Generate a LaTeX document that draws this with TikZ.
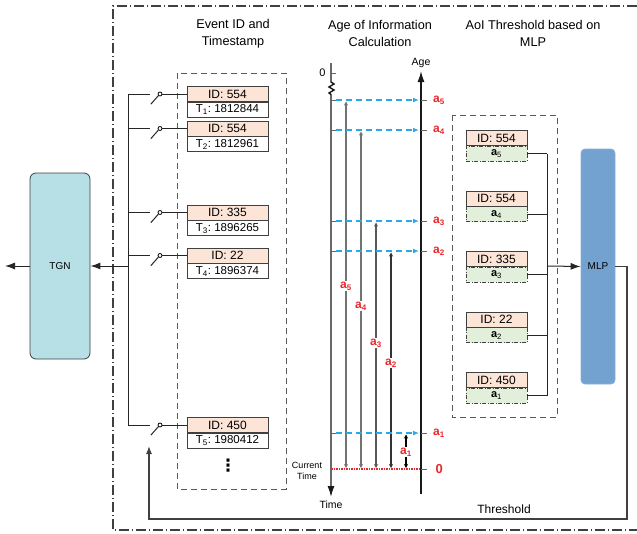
\documentclass[tikz,border=0pt]{standalone}
\usepackage{fontspec}
\setmainfont{Liberation Sans}
\newfontfamily\symfnt{DejaVu Sans}
\usetikzlibrary{arrows.meta, positioning, calc}
\definecolor{dgry}  {RGB}{ 64, 64, 64}
\definecolor{peach} {RGB}{252,228,214}
\definecolor{lgrn}  {RGB}{226,239,218}
\definecolor{tcyan} {RGB}{182,224,230}
\definecolor{mblue} {RGB}{116,162,208}
\definecolor{sblue} {RGB}{ 40,170,230}
\definecolor{ared}  {RGB}{232, 38, 43}
\tikzset{
  % Peach ID row
  IB/.style={rectangle,draw=dgry,fill=peach,minimum width=#1,
             minimum height=15pt,inner sep=0pt,line width=0.8pt,
             font=\fontsize{12}{13}\selectfont},
  IB/.default=81pt,
  % White timestamp row
  TB/.style={rectangle,draw=dgry,fill=white,minimum width=#1,
             minimum height=15pt,inner sep=0pt,line width=0.8pt,
             font=\fontsize{11.5}{13}\selectfont},
  TB/.default=81pt,
  % Green age row, dash-dot border
  GB/.style={rectangle,draw=dgry,fill=lgrn,minimum width=#1,
             minimum height=15pt,inner sep=0pt,line width=0.7pt,
             dash pattern=on 4pt off 1.5pt on 1pt off 1.5pt,
             font=\fontsize{11}{13}\selectfont},
  GB/.default=61pt,
  % Model blocks
  MB/.style={rectangle,rounded corners=6pt,line width=0.8pt,
             font=\fontsize{10}{12}\selectfont},
  % Red age labels
  AL/.style={text=ared,inner sep=1pt,font=\fontsize{12}{13}\selectfont\bfseries},
  Wire/.style ={line width=1pt,color=black!85},
  Tick/.style ={line width=0.8pt,color=black!60},
  Arr/.style  ={-{Latex[length=10pt,width=7pt]},line width=1pt,color=black!85},
  AxArr/.style={-{Latex[length=11pt,width=7pt]},line width=1.4pt,color=black!90},
  BArr/.style ={-{Latex[length=6pt,width=5pt]},line width=1.2pt,color=sblue,
                dash pattern=on 6pt off 4pt},
  DArr/.style ={{Stealth[length=4pt,width=4pt]}-{Stealth[length=4pt,width=4pt]},
                line width=1.2pt},
  FrameS/.style={line width=1.2pt,color=dgry,
                 dash pattern=on 10pt off 3pt on 1pt off 3pt},
  DBox/.style ={line width=1pt,color=black!65,dash pattern=on 6pt off 4pt},
}

\begin{document}
\begin{tikzpicture}[x=1pt,y=-1pt]
  \useasboundingbox (0,0) rectangle (637,533);
  % Outer frame and section titles
  \draw[FrameS] (637,6) -- (113,6) -- (113,530) -- (637,530);
  \node[align=center,font=\fontsize{12.7}{17}\selectfont]
       at (233,33.5) (h1) {Event ID and\\Timestamp};
  \node[align=center,font=\fontsize{12.7}{17}\selectfont]
       at (380,33.5) (h2) {Age of Information\\Calculation};
  \node[align=center,font=\fontsize{12.7}{17}\selectfont]
       at (533,33.5) (h3) {AoI Threshold based on\\MLP};

  % TGN block
  \node[MB,fill=tcyan,draw=dgry,minimum width=60pt,minimum height=186pt]
       at (60,266) (tgn) {TGN};
  \coordinate (out) at (5,266);
  \coordinate (bt)  at (128,266);
  \draw[Arr] (bt) -- (tgn.east);
  \draw[Arr] (tgn.west) -- (out);

  % Event boxes with switches
  \draw[DBox] (177,73) rectangle (286,489);
  \foreach \i/\c/\id/\ts in {1/94/554/1812844, 2/128.5/554/1812961,
                             3/212.5/335/1896265, 4/255.5/22/1896374,
                             5/425/450/1980412}{
    \node[IB] at (227.5,\c) (e\i) {ID: \id};
    \node[TB,below=0pt of e\i] (t\i) {T\textsubscript{\i}:\ \ts};
    \coordinate (b\i) at (128,\c);
    \coordinate (k\i) at (150,\c);
    \node[circle,draw,line width=0.8pt,inner sep=0pt,minimum size=4pt]
         at (160,\c) (s\i) {};
    \draw[Wire] (b\i) -- (k\i);
    \draw[Wire] (s\i.south west) -- ++(-7.5,8.5);
    \draw[Wire] (s\i) -- (e\i);
  }
  \draw[Wire] (b1) -- (b5);
  \node[font=\symfnt\fontsize{17}{17}\selectfont\bfseries,inner sep=0pt]
       at (228,466) (dots) {⋮};

  % Age of information axes
  \coordinate (tax)  at (331,63);
  \coordinate (tend) at (331,497);
  \coordinate (gax)  at (421,494);
  \coordinate (gend) at (421,71);
  \draw[AxArr] (tax) -- (331,82) -- ++(3,2) -- ++(-5,3) -- ++(5,3)
               -- ++(-5,3) -- ++(2,1.5) -- (tend);
  \draw[AxArr] (gax) -- (gend);
  \node[font=\fontsize{10.5}{12}\selectfont,above=0pt of gend] (glab) {Age};
  \node[font=\fontsize{10.5}{12}\selectfont,below=0pt of tend] (tlab) {Time};
  \draw[Tick] (331,73) -- (336,73);
  \node[font=\fontsize{11}{12}\selectfont,anchor=east] at (329,73) (zero) {0};
  \node[font=\fontsize{9}{11.5}\selectfont,align=center]
       at (307,471) (now) {Current\\Time};

  % Levels, blue projections and age arrows
  \foreach \i/\y/\x/\ly/\col in {5/100/346/286/black!55, 4/130/361/306/black!55,
                                 3/221/376/343/black!65, 2/251/391/363/black!80,
                                 1/433/406/452/black}{
    \coordinate (L\i) at (331,\y);
    \coordinate (R\i) at (421,\y);
    \draw[Tick] (L\i) -- ++(5,0);
    \draw[BArr] ($(L\i)+(5,0)$) -- ($(R\i)+(-2,0)$);
    \draw[Tick] (R\i) -- ++(6,0);
    \node[AL,anchor=west] at (432,\y) (al\i) {a\textsubscript{\i}};
    \coordinate (u\i) at (\x,\y+1.5);
    \coordinate (d\i) at (\x,468);
    \draw[DArr,color=\col] (u\i) -- (d\i);
    \node[AL,fill=white] at (\x,\ly) (av\i) {a\textsubscript{\i}};
  }
  \draw[ared,line width=1.2pt,dash pattern=on 1.5pt off 1pt] (331,469) -- (421,469);
  \draw[Tick] (421,469) -- ++(6,0);
  \node[text=ared,font=\fontsize{13}{14}\selectfont\bfseries,anchor=west]
       at (432,469) (az) {0};

  % AoI threshold block
  \draw[DBox] (452,115) rectangle (557,417);
  \node[MB,fill=mblue,draw=mblue!85!white,rounded corners=4pt,
        minimum width=34pt,minimum height=235pt] at (598,266.5) (mlp) {MLP};
  \coordinate (bus) at (547,266);
  \foreach \i/\y/\id in {5/138/554, 4/198.5/554, 3/259/335, 2/319.5/22, 1/380/450}{
    \node[IB=61pt] at (496.5,\y) (m\i) {ID: \id};
    \node[GB,below=0pt of m\i] (g\i) {\textbf{a}\textsubscript{\i}};
    \draw[Wire] (g\i.east) -- (g\i.east -| bus);
  }
  \draw[Wire] (g5.east -| bus) -- (g1.east -| bus);
  \draw[Arr] (bus) -- (mlp.west);

  % Threshold feedback
  \coordinate (th1) at (627,519);
  \coordinate (th2) at (149,519);
  \coordinate (th3) at (149,446);
  \draw[-{Latex[length=8pt,width=6pt]},line width=1.1pt,color=dgry]
       (mlp.east) -- (mlp.east -| th1) -- (th1) -- (th2) -- (th3);
  \node[font=\fontsize{12}{13}\selectfont] at (504,509) (thr) {Threshold};
\end{tikzpicture}
\end{document}
